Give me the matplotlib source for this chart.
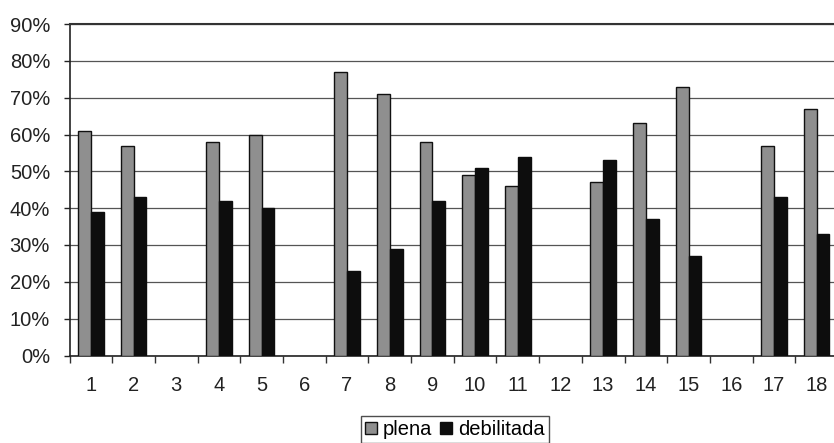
import matplotlib
matplotlib.use("Agg")
import matplotlib.pyplot as plt
import numpy as np
from matplotlib.ticker import FixedLocator, FuncFormatter

plt.rcParams['font.family'] = ['Liberation Sans', 'DejaVu Sans']

categories = [str(i) for i in range(1, 19)]
plena = [61, 57, None, 58, 60, None, 77, 71, 58, 49, 46, None, 47, 63, 73, None, 57, 67]
debilitada = [39, 43, None, 42, 40, None, 23, 29, 42, 51, 54, None, 53, 37, 27, None, 43, 33]
series_names = ['plena', 'debilitada']

W, H = 834, 443
fig = plt.figure(figsize=(W / 100, H / 100), dpi=100)
left_px, right_px, top_px, bottom_px = 69.5, 838.0, 24.0, 355.5
ax = fig.add_axes([left_px / W, (H - bottom_px) / H, (right_px - left_px) / W, (bottom_px - top_px) / H])

x = np.arange(len(categories))
pv = np.array([np.nan if v is None else v for v in plena], dtype=float)
dv = np.array([np.nan if v is None else v for v in debilitada], dtype=float)
mp = ~np.isnan(pv)
md = ~np.isnan(dv)
bw = 0.30
b1 = ax.bar(x[mp] - bw / 2, pv[mp], bw, color='#8f8f8f', edgecolor='#111111', linewidth=1.0,
            label=series_names[0], zorder=3)
b2 = ax.bar(x[md] + bw / 2, dv[md], bw, color='#0d0d0d', edgecolor='#0d0d0d', linewidth=1.0,
            label=series_names[1], zorder=3)

ax.set_xlim(-0.5, len(categories) - 0.5)
ax.set_ylim(0, 90)
ax.yaxis.set_major_locator(FixedLocator(np.arange(0, 91, 10)))
ax.yaxis.set_major_formatter(FuncFormatter(lambda v, p: f"{int(v)}%"))
ax.grid(axis='y', color='#555555', linewidth=0.9, zorder=0)

ax.xaxis.set_major_locator(FixedLocator(x))
ax.set_xticklabels(categories)
ax.xaxis.set_minor_locator(FixedLocator(np.arange(-0.5, len(categories), 1.0)))
ax.tick_params(axis='x', which='major', length=0, pad=15, labelsize=14.5, colors='#222222')
ax.tick_params(axis='x', which='minor', length=5, width=1, direction='out', color='#333333')
ax.tick_params(axis='y', which='major', length=4, width=1, direction='out', pad=10, labelsize=14.5,
               colors='#222222')

for s in ['left', 'bottom']:
    ax.spines[s].set_color('#222222')
    ax.spines[s].set_linewidth(1.2)
ax.spines['top'].set_color('#333333')
ax.spines['top'].set_linewidth(1.5)
ax.spines['right'].set_visible(False)

leg = fig.legend(handles=[b1, b2], labels=series_names, loc='upper center',
                 bbox_to_anchor=(455 / W, (H - 416) / H), ncol=2, frameon=True, fancybox=False,
                 fontsize=14.5, handlelength=0.6, handleheight=0.6, handletextpad=0.3,
                 columnspacing=0.4, borderpad=0.2, borderaxespad=0)
leg.get_frame().set_edgecolor('#222222')
leg.get_frame().set_linewidth(1.0)

fig.savefig('out.png', dpi=100)
